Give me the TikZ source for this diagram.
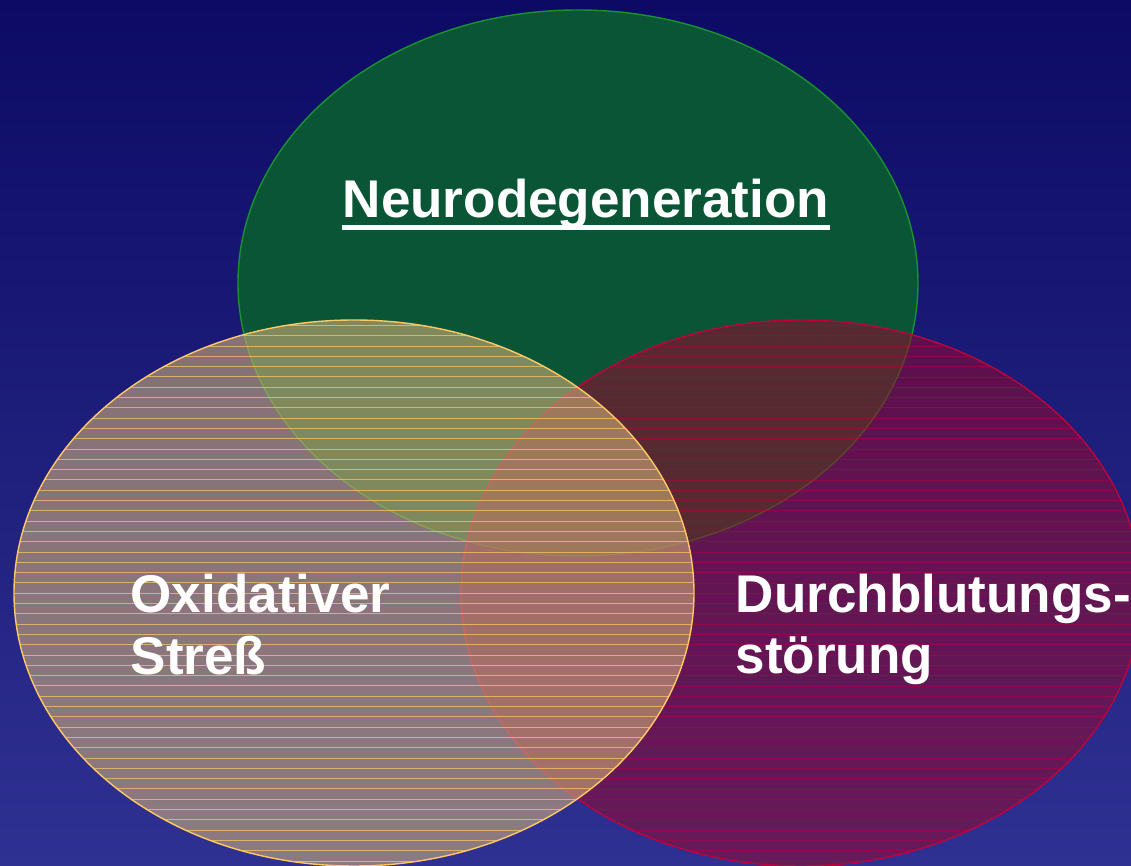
\documentclass[tikz,border=0pt]{standalone}
\usepackage{fontspec}
\setmainfont{Liberation Sans}

\definecolor{bgtop}{RGB}{12,10,100}
\definecolor{bgbot}{RGB}{47,49,146}
\definecolor{neurogreen}{RGB}{11,85,55}
\definecolor{neuroedge}{RGB}{25,145,45}
\definecolor{durchred}{RGB}{150,8,45}
\definecolor{durchline}{RGB}{190,0,60}
\definecolor{oxiorange}{RGB}{205,172,118}
\definecolor{oxiline}{RGB}{255,200,100}

\begin{document}
\begin{tikzpicture}[
    lbl/.style={text=white, font=\bfseries\fontsize{15.1}{18}\selectfont, inner sep=0pt, anchor=base west},
    venn/.style={x radius=3.40, y radius=2.73}]

      \useasboundingbox (0,0) rectangle (11.31,8.66);
      \clip (0,0) rectangle (11.31,8.66);
      \shade[top color=bgtop, bottom color=bgbot] (0,0) rectangle (11.31,8.66);

      \coordinate (neuro) at (5.78,5.83);
      \coordinate (durch) at (8.01,2.73);
      \coordinate (oxi) at (3.54,2.73);

      \fill[neurogreen] (neuro) ellipse [venn];
      \draw[neuroedge, line width=0.4pt] (neuro) ellipse [venn];

      \begin{scope}
        \clip (durch) ellipse [venn];
        \fill[durchred, fill opacity=0.55] (durch) ellipse [venn];
        \foreach \y in {0.05,0.153,...,5.5}
          \draw[durchline, draw opacity=0.5, line width=0.22pt] (4.5,\y) -- (11.31,\y);
      \end{scope}
      \draw[durchline, line width=0.4pt] (durch) ellipse [venn];

      \begin{scope}
        \clip (oxi) ellipse [venn];
        \fill[oxiorange, fill opacity=0.6] (oxi) ellipse [venn];
        \foreach \y in {0.05,0.153,...,5.5}
          \draw[oxiline, draw opacity=0.7, line width=0.25pt] (0,\y) -- (7,\y);
      \end{scope}
      \draw[oxiline, line width=0.4pt] (oxi) ellipse [venn];

      \node[lbl] (neurotext) at (3.42,6.48) {Neurodegeneration};
      \draw[white, line width=0.05cm] ([yshift=-0.1cm]neurotext.base west) -- ([yshift=-0.1cm]neurotext.base east);

      \node[lbl] (oxitext) at (1.30,2.53) {Oxidativer};
      \node[lbl] (stresstext) at (1.30,1.91) {Streß};

      \node[lbl] (durchtext) at (7.35,2.53) {Durchblutungs-};
      \node[lbl] (stoertext) at (7.35,1.92) {störung};

    \end{tikzpicture}
\end{document}
